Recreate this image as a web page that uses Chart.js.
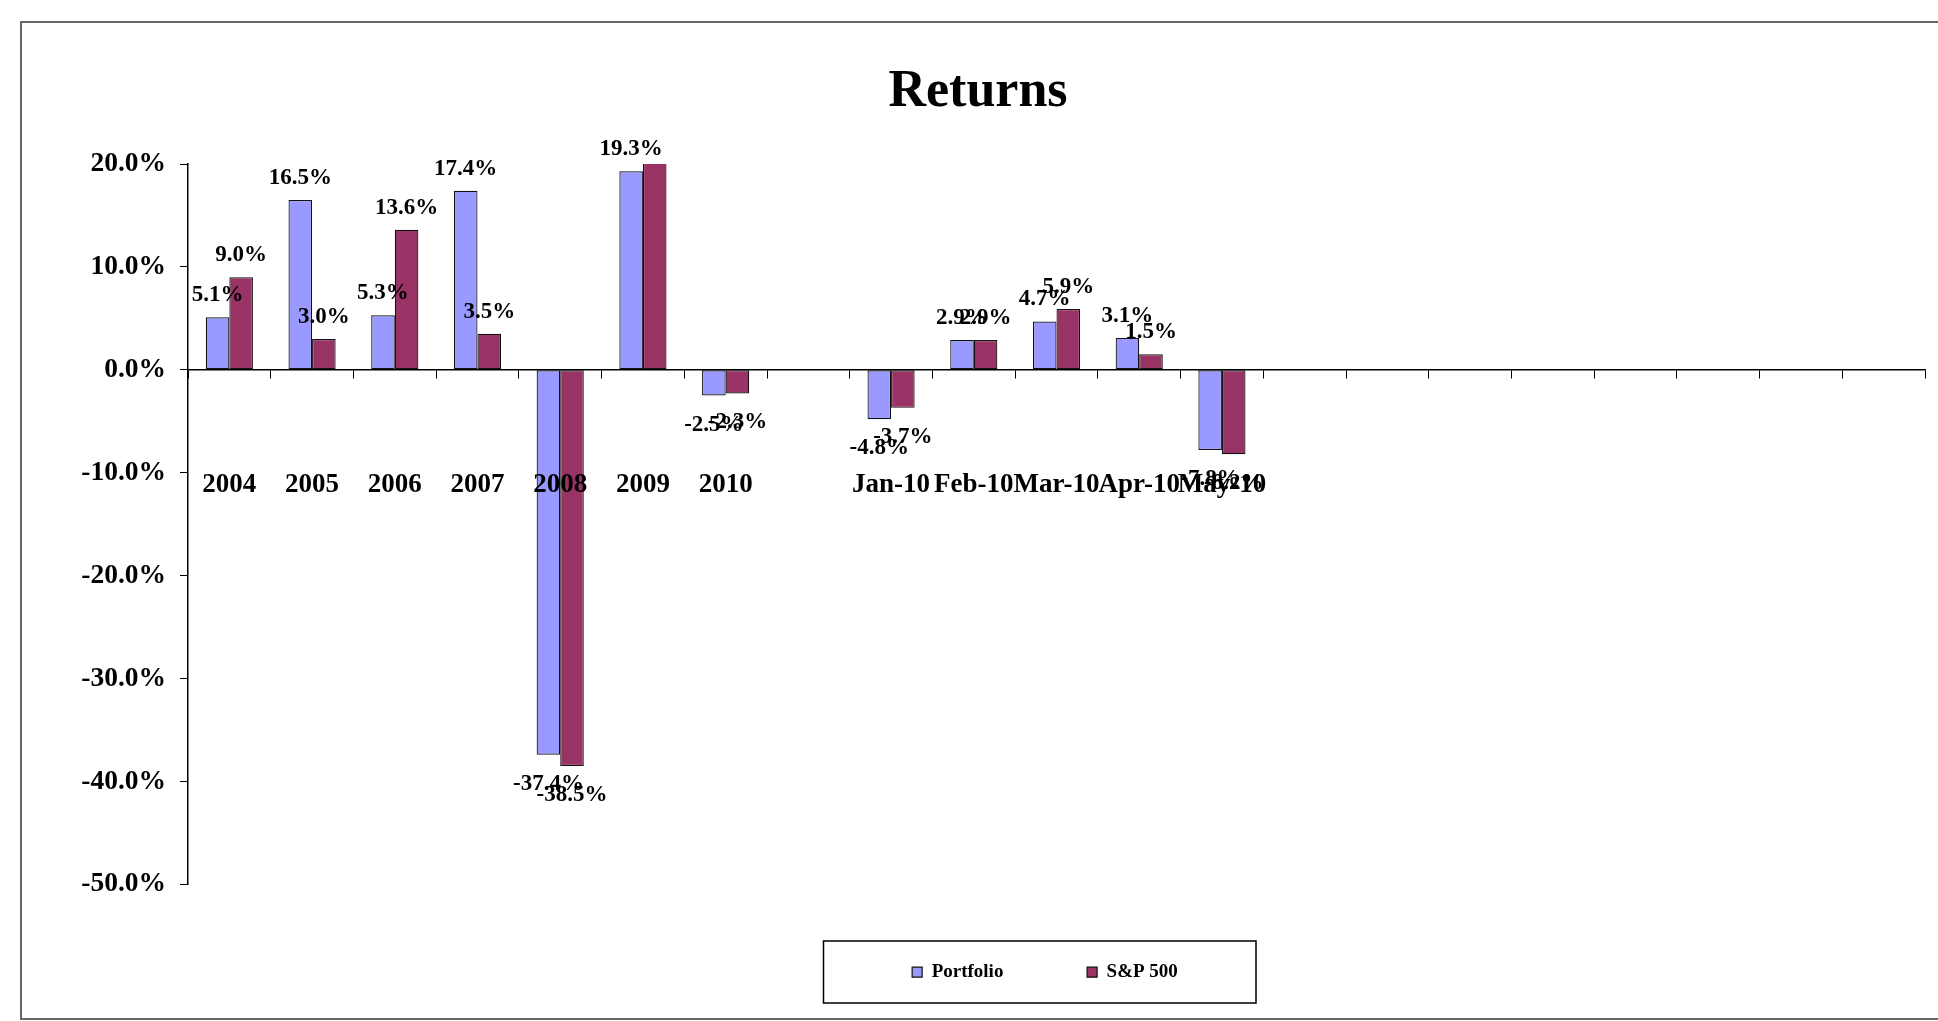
<!DOCTYPE html>
<html><head><meta charset="utf-8">
<script src="https://cdn.jsdelivr.net/npm/chart.js@4/dist/chart.umd.min.js"></script>
<style>html,body{margin:0;padding:0;background:#fff;overflow:hidden}canvas{display:block}</style>
</head><body>
<canvas id="c" width="1938" height="1021"></canvas>
<script>
const categories = ['2004','2005','2006','2007','2008','2009','2010','','Jan-10','Feb-10','Mar-10','Apr-10','May-10','','','','','','','',''];
const portfolio = [5.1, 16.5, 5.3, 17.4, -37.4, 19.3, -2.5, null, -4.8, 2.9, 4.7, 3.1, -7.8];
const sp500 = [9.0, 3.0, 13.6, 3.5, -38.5, 23.5, -2.3, null, -3.7, 2.9, 5.9, 1.5, -8.2];
const seriesNames = ['Portfolio', 'S&P 500'];
const yMin = -50, yMax = 20, yStep = 10;

const FONT = '"Liberation Serif", "Times New Roman", Times, serif';
Chart.defaults.font.family = FONT;
Chart.defaults.color = '#000';

const frame = {
  id: 'frame',
  beforeDraw(chart) {
    const ctx = chart.ctx;
    ctx.save();
    ctx.fillStyle = '#fff';
    ctx.fillRect(0, 0, chart.width, chart.height);
    ctx.strokeStyle = '#666';
    ctx.lineWidth = 2;
    ctx.strokeRect(21, 22, 2000, 997);
    ctx.strokeStyle = '#000';
    ctx.lineWidth = 1.5;
    ctx.strokeRect(823.5, 941, 432.5, 62);
    ctx.restore();
  }
};

const legendPlace = {
  id: 'legendPlace',
  afterLayout(chart) {
    const lg = chart.legend;
    if (!lg) return;
    lg.left = 790; lg.right = 1300;
    lg.top = 879; lg.bottom = 1010;
    lg.width = lg.right - lg.left; lg.height = lg.bottom - lg.top;
  }
};

const dataLabels = {
  id: 'dataLabels',
  afterDatasetsDraw(chart) {
    const ctx = chart.ctx;
    ctx.save();
    ctx.font = 'bold 23px ' + FONT;
    ctx.fillStyle = '#000';
    ctx.textAlign = 'center';
    ctx.textBaseline = 'alphabetic';
    chart.data.datasets.forEach((ds, i) => {
      const meta = chart.getDatasetMeta(i);
      meta.data.forEach((el, j) => {
        const v = ds.data[j];
        if (v === null || v === undefined || v > yMax || v < yMin) return;
        const y = v >= 0 ? el.y - 16 : el.y + 35;
        ctx.fillText(v.toFixed(1) + '%', el.x, y);
      });
    });
    ctx.restore();
  }
};

new Chart(document.getElementById('c'), {
  type: 'bar',
  data: {
    labels: categories,
    datasets: [
      { label: seriesNames[0], data: portfolio, backgroundColor: '#9999FF', borderColor: '#111', borderWidth: 1.2, borderSkipped: false, clip: 0 },
      { label: seriesNames[1], data: sp500, backgroundColor: '#993366', borderColor: '#111', borderWidth: 1.2, borderSkipped: false, clip: 0 }
    ]
  },
  options: {
    responsive: false,
    devicePixelRatio: 1,
    animation: false,
    categoryPercentage: 0.57,
    barPercentage: 1.0,
    layout: { padding: { left: 31, right: 13, top: 61, bottom: 24 } },
    plugins: {
      title: {
        display: true, text: 'Returns', color: '#000',
        font: { size: 52, weight: 'bold', family: FONT, lineHeight: 1.2 },
        padding: { top: 0, bottom: 40.6 }
      },
      legend: {
        display: true, position: 'bottom', align: 'center',
        labels: {
          boxWidth: 10, boxHeight: 10, padding: 83.7, color: '#000',
          font: { size: 19, weight: 'bold', family: FONT }
        }
      },
      tooltip: { enabled: false }
    },
    scales: {
      x: {
        position: { y: 0 },
        offset: true,
        afterFit(scale) { scale.paddingLeft = 0; scale.paddingRight = 0; },
        grid: { display: true, drawOnChartArea: false, drawTicks: true, tickLength: 8, color: '#000', offset: true },
        border: { display: true, color: '#000', width: 1.5 },
        ticks: {
          z: 1,
          autoSkip: false, maxRotation: 0, minRotation: 0, padding: 91, color: '#000',
          font: { size: 27, weight: 'bold', family: FONT }
        }
      },
      y: {
        min: yMin, max: yMax,
        afterFit(scale) { scale.width = 157; },
        grid: { display: true, drawOnChartArea: false, drawTicks: true, tickLength: 8, color: '#000' },
        border: { display: true, color: '#000', width: 1.5 },
        ticks: {
          stepSize: yStep, padding: 14, color: '#000',
          font: { size: 27.5, weight: 'bold', family: FONT },
          callback: (v) => Number(v).toFixed(1) + '%'
        }
      }
    }
  },
  plugins: [frame, legendPlace, dataLabels]
});
</script>
</body></html>
